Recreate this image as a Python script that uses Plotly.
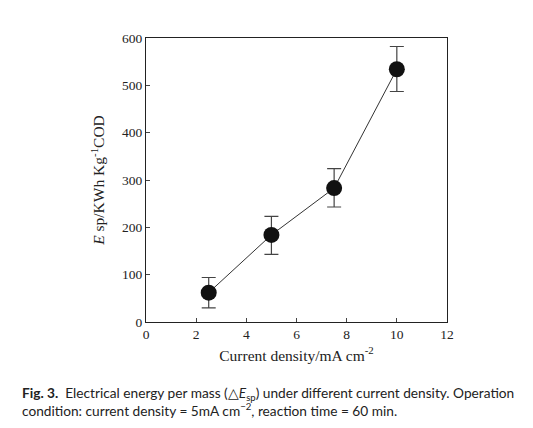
import plotly.graph_objects as go

current_density = [2.5, 5.0, 7.5, 10.0]
energy = [62, 184, 283, 534]
err_plus = [32, 39, 41, 48]
err_minus = [32, 41, 40, 47]

x_ticks = [0, 2, 4, 6, 8, 10, 12]
y_ticks = [0, 100, 200, 300, 400, 500, 600]

serif = "Liberation Serif, Times New Roman, serif"

# page body has an 8px offset; margins compensate for it
L, R, T, B = 138, 94, 30, 114
plot_w = 533 - L - R
plot_h = 428 - T - B

fig = go.Figure()
fig.add_trace(go.Scatter(
    x=current_density, y=energy,
    mode="lines+markers",
    line=dict(color="#333333", width=1),
    marker=dict(color="#111111", size=16),
    error_y=dict(type="data", symmetric=False, array=err_plus, arrayminus=err_minus,
                 color="#444444", thickness=1.2, width=7),
    showlegend=False,
))

fig.update_layout(
    width=533, height=428,
    margin=dict(l=L, r=R, t=T, b=B),
    paper_bgcolor="white", plot_bgcolor="white",
    font=dict(family=serif, color="#222222", size=13.5),
    xaxis=dict(range=[0, 12], tickvals=x_ticks, ticks="inside", ticklen=4,
               showline=True, linecolor="#222222", linewidth=1, mirror=True,
               showgrid=False, zeroline=False, tickfont=dict(size=13.5),
               title=dict(text="Current density/mA cm<sup>-2</sup>", font=dict(size=15.5), standoff=8)),
    yaxis=dict(range=[0, 600], tickvals=y_ticks, ticks="inside", ticklen=4,
               showline=True, linecolor="#222222", linewidth=1, mirror=True,
               showgrid=False, zeroline=False, tickfont=dict(size=13.5),
               title=dict(text="<i>E</i> sp/KWh Kg<sup>-1</sup>COD", font=dict(size=15.5), standoff=13)),
)

cap_font = dict(family="Lato, Open Sans, sans-serif", size=13.7, color="#222222")
fig.add_annotation(xref="paper", yref="paper", x=-(L - 12) / plot_w, y=-(385 - (T + plot_h)) / plot_h,
                   xanchor="left", yanchor="middle",
                   showarrow=False, align="left", font=cap_font,
                   text="<b>Fig. 3.</b>  Electrical energy per mass (△<i>E</i><sub>sp</sub>) under different current density. Operation")
fig.add_annotation(xref="paper", yref="paper", x=-(L - 12) / plot_w, y=-(402 - (T + plot_h)) / plot_h,
                   xanchor="left", yanchor="middle",
                   showarrow=False, align="left", font=cap_font,
                   text="condition: current density = 5mA cm<sup>−2</sup>, reaction time = 60 min.")

fig.write_html("out.html")
